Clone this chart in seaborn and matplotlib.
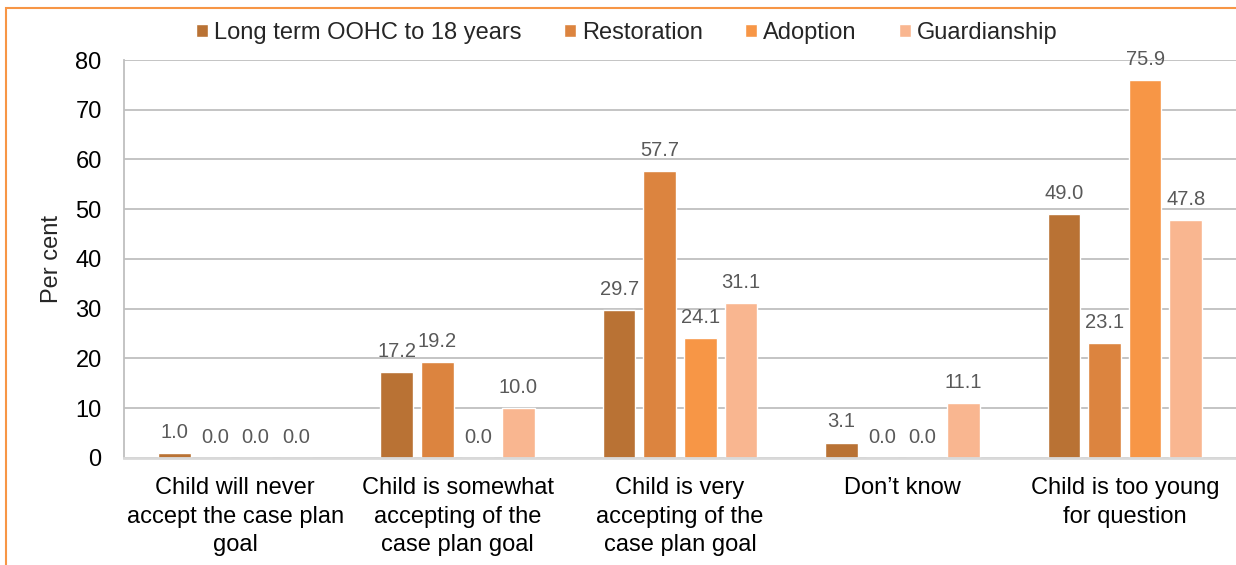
import numpy as np
import pandas as pd
import matplotlib
matplotlib.use("Agg")
import matplotlib.pyplot as plt
import seaborn as sns
from matplotlib.patches import Rectangle

categories = [
    "Child will never\naccept the case plan\ngoal",
    "Child is somewhat\naccepting of the\ncase plan goal",
    "Child is very\naccepting of the\ncase plan goal",
    "Don\u2019t know",
    "Child is too young\nfor question",
]
series = ["Long term OOHC to 18 years", "Restoration", "Adoption", "Guardianship"]
long_term = [1.0, 17.2, 29.7, 3.1, 49.0]
restoration = [0.0, 19.2, 57.7, 0.0, 23.1]
adoption = [0.0, 0.0, 24.1, 0.0, 75.9]
guardianship = [0.0, 10.0, 31.1, 11.1, 47.8]
colors = ["#B97234", "#DC843F", "#F79646", "#F9B690"]

rows = []
for name, vals in zip(series, [long_term, restoration, adoption, guardianship]):
    for cat, v in zip(categories, vals):
        rows.append({"cat": cat, "series": name, "value": v})
df = pd.DataFrame(rows)

sns.set_style("white")
plt.rcParams["font.family"] = ["Liberation Sans", "DejaVu Sans"]

fig = plt.figure(figsize=(12.36, 5.65), dpi=100)
ax = fig.add_axes([0.1003, 0.1894, 0.8997, 0.7044])

sns.barplot(data=df, x="cat", y="value", hue="series", order=categories,
            hue_order=series, palette=colors, width=0.73, gap=0.2,
            saturation=1, ax=ax, legend=True)

for cont in ax.containers:
    ax.bar_label(cont, fmt="%.1f", padding=8, fontsize=14.5, color="#595959")

ax.set_ylim(0, 80)
ax.set_xlim(-0.5, 4.5)
ax.set_yticks(range(0, 81, 10))
ax.yaxis.grid(True, color="#BFBFBF", linewidth=1.3)
ax.set_axisbelow(True)
ax.tick_params(axis="y", length=0, pad=16, labelsize=17, labelcolor="black")
ax.tick_params(axis="x", length=0, pad=14, labelsize=17, labelcolor="black")
for lbl in ax.get_xticklabels():
    lbl.set_linespacing(1.38)
ax.set_xlabel("")
ax.set_ylabel("Per cent", fontsize=17, labelpad=9)
for s in ["top", "right"]:
    ax.spines[s].set_visible(False)
ax.spines["left"].set_color("#BFBFBF")
ax.spines["left"].set_linewidth(1.3)
ax.spines["bottom"].set_color("#D9D9D9")
ax.spines["bottom"].set_linewidth(2)

handles, labels = ax.get_legend_handles_labels()
ax.legend_.remove()
fig.legend(handles, labels, loc="center", bbox_to_anchor=(0.507, 0.942), ncol=4,
           frameon=False, fontsize=17, handlelength=0.5, handleheight=0.5,
           handletextpad=0.25, columnspacing=1.8)

fig.patches.append(Rectangle((6 / 1236, -0.1), 1.2, 1.1 - 8 / 565,
                             transform=fig.transFigure, fill=False,
                             edgecolor="#F79646", linewidth=1.5))

fig.savefig("out.png", dpi=100)
